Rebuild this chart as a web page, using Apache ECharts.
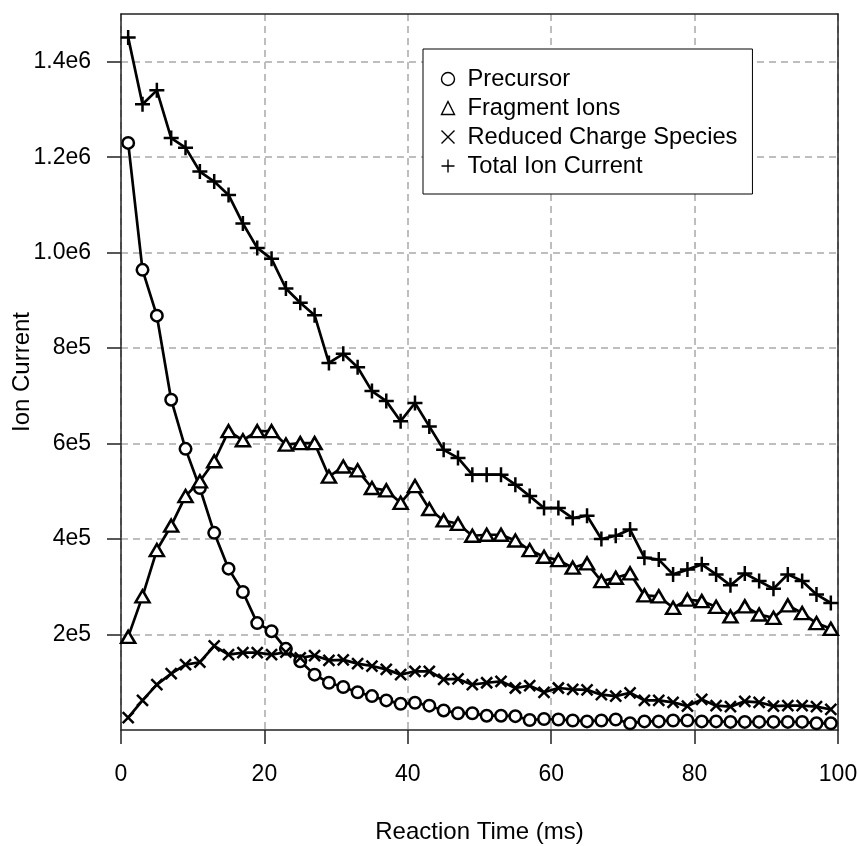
<!DOCTYPE html>
<html>
<head>
<meta charset="utf-8">
<script src="https://cdn.jsdelivr.net/npm/echarts@6/dist/echarts.min.js"></script>
<style>
html,body{margin:0;padding:0;background:#fff;}
#chart{width:859px;height:846px;}
</style>
</head>
<body>
<div id="chart"></div>
<script>
// ---- data ----
const reactionTime = [1,3,5,7,9,11,13,15,17,19,21,23,25,27,29,31,33,35,37,39,41,43,45,47,49,51,53,55,57,59,61,63,65,67,69,71,73,75,77,79,81,83,85,87,89,91,93,95,97,99];
const precursor = [1230000,964000,868000,692000,589000,507000,413000,338000,289000,224000,
  207000,170000,144000,116000,99000,90000,79000,71000,62000,55000,
  57000,51000,41000,35000,35000,30000,30000,29000,21000,23000,
  22000,20000,18000,20000,22000,14000,18000,18000,20000,20000,
  18000,18000,17000,17000,17000,17000,17000,17000,14000,14000];
const fragmentIons = [195000,280000,377000,428000,490000,521000,563000,626000,607000,626000,
  626000,598000,601000,601000,531000,552000,544000,507000,502000,476000,
  511000,463000,439000,432000,407000,409000,409000,397000,377000,363000,
  356000,340000,349000,312000,319000,328000,282000,280000,256000,273000,
  270000,258000,238000,259000,242000,235000,261000,245000,224000,212000];
const reducedCharge = [26000,62000,95000,118000,137000,142000,176000,158000,162000,162000,
  158000,163000,151000,156000,146000,147000,139000,134000,127000,116000,
  123000,123000,106000,107000,95000,99000,102000,88000,93000,79000,
  88000,85000,84000,74000,71000,78000,62000,62000,58000,50000,
  64000,51000,49000,60000,58000,50000,51000,51000,49000,43000];
const totalIonCurrent = [1451000,1311000,1340000,1240000,1220000,1170000,1149000,1121000,1061000,1010000,
  987000,925000,895000,869000,769000,788000,760000,710000,689000,647000,
  685000,636000,587000,570000,535000,535000,535000,514000,490000,465000,
  465000,444000,449000,400000,407000,420000,361000,357000,326000,336000,
  347000,326000,303000,328000,312000,296000,326000,312000,284000,266000];
const seriesNames = ['Precursor','Fragment Ions','Reduced Charge Species','Total Ion Current'];
const xTickValues = [0,20,40,60,80,100];
const yTickValues = [200000,400000,600000,800000,1000000,1200000,1400000];
const yTickLabels = ['2e5','4e5','6e5','8e5','1.0e6','1.2e6','1.4e6'];

// ---- chart ----
const FONT = "'Liberation Sans', Arial, Helvetica, sans-serif";
const chart = echarts.init(document.getElementById('chart'), null, {renderer:'canvas'});
function pairs(arr){ return reactionTime.map((t,i)=>[t,arr[i]]); }

const CROSS = 'path://M0,0L10,10M10,0L0,10';
const PLUS = 'path://M5,0L5,10M0,5L10,5';
const markerStyle = {color:'#fff', borderColor:'#000', borderWidth:2.5};
const strokeOnly = {color:'none', borderColor:'#000', borderWidth:2.5};

function lineSeries(name, data, symbol, size, itemStyle){
  return {
    name, type:'line', data:pairs(data), xAxisIndex:0, yAxisIndex:0,
    symbol, symbolSize:size, showAllSymbol:true,
    lineStyle:{color:'#000', width:2.7},
    itemStyle:itemStyle,
    emphasis:{disabled:true},
    z:3
  };
}

const axisLineOnly = {
  axisLine:{show:true, onZero:false, lineStyle:{color:'#222', width:1.5}},
  axisTick:{show:false}, axisLabel:{show:false}, splitLine:{show:false}
};

chart.setOption({
  animation:false,
  backgroundColor:'#fff',
  textStyle:{fontFamily:FONT},
  grid:{left:121, right:21, top:14, bottom:116, containLabel:false, outerBoundsMode:'none'},
  legend:{
    orient:'vertical', left:423, top:49,
    padding:[18,15,16,16], itemGap:5, itemWidth:13, itemHeight:13,
    borderColor:'#000', borderWidth:1, borderRadius:0, backgroundColor:'#fff',
    textStyle:{fontSize:23.7, color:'#000', fontFamily:FONT, padding:[0,0,0,8]},
    selectedMode:false,
    data:[
      {name:seriesNames[0], icon:'circle', itemStyle:{color:'#fff', borderColor:'#000', borderWidth:1.4}},
      {name:seriesNames[1], icon:'triangle', itemStyle:{color:'#fff', borderColor:'#000', borderWidth:1.4}},
      {name:seriesNames[2], icon:CROSS, itemStyle:{color:'none', borderColor:'#000', borderWidth:1.4}},
      {name:seriesNames[3], icon:PLUS, itemStyle:{color:'none', borderColor:'#000', borderWidth:1.4}}
    ]
  },
  xAxis:[{
    type:'value', min:0, max:100, interval:20, position:'bottom',
    name:'Reaction Time (ms)', nameLocation:'middle', nameGap:90, nameMoveOverlap:false,
    nameTextStyle:{fontSize:24, color:'#000', fontFamily:FONT},
    axisLine:{show:true, onZero:false, lineStyle:{color:'#222', width:1.5}},
    axisTick:{show:true, inside:false, length:14, lineStyle:{color:'#222', width:1.5}, customValues:xTickValues},
    axisLabel:{show:true, margin:33, fontSize:23, color:'#000', fontFamily:FONT, customValues:xTickValues},
    splitLine:{show:true, lineStyle:{color:'#bebebe', width:2, type:[7,5]}}
  },{
    type:'value', min:0, max:100, position:'top', ...axisLineOnly
  }],
  yAxis:[{
    type:'value', min:0, max:1500000, position:'left',
    name:'Ion Current', nameLocation:'middle', nameGap:87, nameMoveOverlap:false,
    nameTextStyle:{fontSize:24, color:'#000', fontFamily:FONT},
    axisLine:{show:true, onZero:false, lineStyle:{color:'#222', width:1.5}},
    axisTick:{show:true, inside:false, length:14, lineStyle:{color:'#222', width:1.5}, customValues:yTickValues},
    axisLabel:{show:true, margin:30, fontSize:23, color:'#000', fontFamily:FONT, customValues:yTickValues,
      formatter:(v)=>{const i=yTickValues.indexOf(v); return i>=0?yTickLabels[i]:'';}},
    splitLine:{show:true, lineStyle:{color:'#bebebe', width:2, type:[7,5]}}
  },{
    type:'value', min:0, max:1500000, position:'right', ...axisLineOnly
  }],
  series:[
    lineSeries(seriesNames[0], precursor, 'circle', 11.5, markerStyle),
    lineSeries(seriesNames[1], fragmentIons, 'triangle', [14,12], markerStyle),
    lineSeries(seriesNames[2], reducedCharge, CROSS, 11, strokeOnly),
    lineSeries(seriesNames[3], totalIonCurrent, PLUS, 15, strokeOnly)
  ]
});
</script>
</body>
</html>
